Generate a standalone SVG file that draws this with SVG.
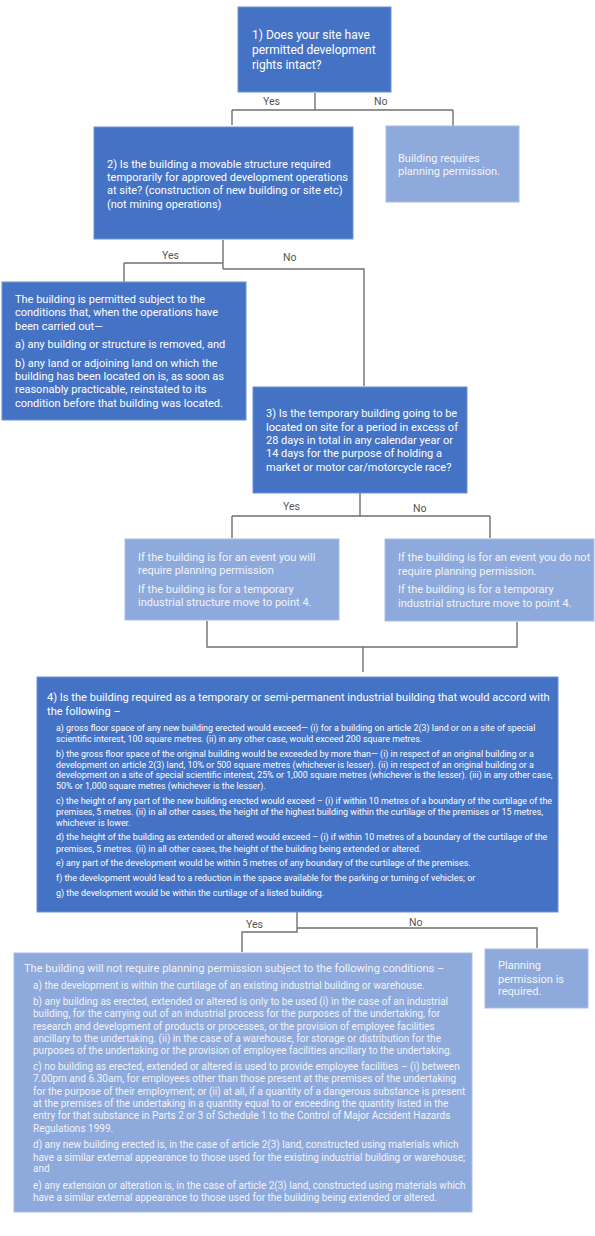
<svg xmlns="http://www.w3.org/2000/svg" width="595" height="1236" viewBox="0 0 595 1236">
<style>
.dark{fill:#4472C4;stroke:#6f92d3;stroke-width:1}
.light{fill:#8EA9DB;stroke:#a8bde4;stroke-width:1}
text{font-family:Roboto,"Liberation Sans",sans-serif;fill:#ffffff}
.lt text{fill:#f2f4f8}
.q1{font-size:12px}
.q{font-size:11.1px}
.m{font-size:11px}
.s{font-size:8.9px}
.s2{font-size:10px}
.lbl{font-size:10.5px;fill:#555555}
.conn{fill:none;stroke:#707070;stroke-width:1.4}
</style>
<rect width="595" height="1236" fill="#ffffff"/>
<g id="connectors">
<path class="conn" d="M315,93 V110 M232,110 H453 M232,110 V125 M453,110 V126"/>
<path class="conn" d="M223,240 V269 M124,263 H223 M124,263 V282 M223,269 H364 V386"/>
<path class="conn" d="M360,493 V516 M232,516 H490 M232,516 V538 M490,516 V538"/>
<path class="conn" d="M207,621 V647 H517 V622 M363,647 V672"/>
<path class="conn" d="M297,912 V932 H242 V952 M297,928 H537 V948"/>
<text class="lbl" x="263" y="105">Yes</text>
<text class="lbl" x="374" y="105">No</text>
<text class="lbl" x="162" y="259">Yes</text>
<text class="lbl" x="283" y="261">No</text>
<text class="lbl" x="283" y="510">Yes</text>
<text class="lbl" x="413" y="512">No</text>
<text class="lbl" x="246" y="928">Yes</text>
<text class="lbl" x="409" y="926">No</text>
</g>
<g id="q1">
<rect class="dark" x="238" y="7" width="153" height="85"/>
<text class="q1" x="252" y="39">1) Does your site have</text>
<text class="q1" x="252" y="54">permitted development</text>
<text class="q1" x="252" y="69">rights intact?</text>
</g>
<g id="q2">
<rect class="dark" x="94" y="127" width="259" height="112"/>
<text class="m" x="107" y="168">2) Is the building a movable structure required</text>
<text class="m" x="107" y="181">temporarily for approved development operations</text>
<text class="m" x="107" y="194">at site? (construction of new building or site etc)</text>
<text class="m" x="107" y="208">(not mining operations)</text>
</g>
<g id="r1" class="lt">
<rect class="light" x="386" y="126" width="133" height="76"/>
<text class="m" x="398" y="162">Building requires</text>
<text class="m" x="398" y="175">planning permission.</text>
</g>
<g id="r2">
<rect class="dark" x="2" y="282" width="244" height="138"/>
<text class="m" x="15" y="303">The building is permitted subject to the</text>
<text class="m" x="15" y="316">conditions that, when the operations have</text>
<text class="m" x="15" y="330">been carried out—</text>
<text class="m" x="15" y="348">a) any building or structure is removed, and</text>
<text class="m" x="15" y="367">b) any land or adjoining land on which the</text>
<text class="m" x="15" y="380">building has been located on is, as soon as</text>
<text class="m" x="15" y="393">reasonably practicable, reinstated to its</text>
<text class="m" x="15" y="407">condition before that building was located.</text>
</g>
<g id="q3">
<rect class="dark" x="253" y="387" width="214" height="106"/>
<text class="m" x="266" y="417">3) Is the temporary building going to be</text>
<text class="m" x="266" y="431">located on site for a period in excess of</text>
<text class="m" x="266" y="444">28 days in total in any calendar year or</text>
<text class="m" x="266" y="457">14 days for the purpose of holding a</text>
<text class="m" x="266" y="471">market or motor car/motorcycle race?</text>
</g>
<g id="r3yes" class="lt">
<rect class="light" x="125" y="539" width="214" height="81"/>
<text class="m" x="138" y="561">If the building is for an event you will</text>
<text class="m" x="138" y="574">require planning permission</text>
<text class="m" x="138" y="593">If the building is for a temporary</text>
<text class="m" x="138" y="606">industrial structure move to point 4.</text>
</g>
<g id="r3no" class="lt">
<rect class="light" x="385" y="539" width="209" height="82"/>
<text class="m" x="398" y="561">If the building is for an event you do not</text>
<text class="m" x="398" y="575">require planning permission.</text>
<text class="m" x="398" y="593">If the building is for a temporary</text>
<text class="m" x="398" y="607">industrial structure move to point 4.</text>
</g>
<g id="q4">
<rect class="dark" x="37" y="677" width="521" height="235"/>
<text class="q" x="47" y="701">4) Is the building required as a temporary or semi-permanent industrial building that would accord with</text>
<text class="q" x="47" y="715">the following –</text>
<text class="s" x="56" y="731">a) gross floor space of any new building erected would exceed— (i) for a building on article 2(3) land or on a site of special</text>
<text class="s" x="56" y="742">scientific interest, 100 square metres. (ii) in any other case, would exceed 200 square metres.</text>
<text class="s" x="56" y="757">b) the gross floor space of the original building would be exceeded by more than— (i) in respect of an original building or a</text>
<text class="s" x="56" y="768">development on article 2(3) land, 10% or 500 square metres (whichever is lesser). (ii) in respect of an original building or a</text>
<text class="s" x="56" y="778">development on a site of special scientific interest, 25% or 1,000 square metres (whichever is the lesser). (iii) in any other case,</text>
<text class="s" x="56" y="789">50% or 1,000 square metres (whichever is the lesser).</text>
<text class="s" x="56" y="804">c) the height of any part of the new building erected would exceed – (i) if within 10 metres of a boundary of the curtilage of the</text>
<text class="s" x="56" y="815">premises, 5 metres. (ii) in all other cases, the height of the highest building within the curtilage of the premises or 15 metres,</text>
<text class="s" x="56" y="826">whichever is lower.</text>
<text class="s" x="56" y="840">d) the height of the building as extended or altered would exceed – (i) if within 10 metres of a boundary of the curtilage of the</text>
<text class="s" x="56" y="852">premises, 5 metres. (ii) in all other cases, the height of the building being extended or altered.</text>
<text class="s" x="56" y="866">e) any part of the development would be within 5 metres of any boundary of the curtilage of the premises.</text>
<text class="s" x="56" y="881">f) the development would lead to a reduction in the space available for the parking or turning of vehicles; or</text>
<text class="s" x="56" y="896">g) the development would be within the curtilage of a listed building.</text>
</g>
<g id="r4yes" class="lt">
<rect class="light" x="14" y="953" width="458" height="259"/>
<text class="q" x="24" y="972">The building will not require planning permission subject to the following conditions –</text>
<text class="s2" x="33" y="989">a) the development is within the curtilage of an existing industrial building or warehouse.</text>
<text class="s2" x="33" y="1005">b) any building as erected, extended or altered is only to be used (i) in the case of an industrial</text>
<text class="s2" x="33" y="1017">building, for the carrying out of an industrial process for the purposes of the undertaking, for</text>
<text class="s2" x="33" y="1030">research and development of products or processes, or the provision of employee facilities</text>
<text class="s2" x="33" y="1042">ancillary to the undertaking. (ii) in the case of a warehouse, for storage or distribution for the</text>
<text class="s2" x="33" y="1054">purposes of the undertaking or the provision of employee facilities ancillary to the undertaking.</text>
<text class="s2" x="33" y="1070">c) no building as erected, extended or altered is used to provide employee facilities – (i) between</text>
<text class="s2" x="33" y="1082">7.00pm and 6.30am, for employees other than those present at the premises of the undertaking</text>
<text class="s2" x="33" y="1095">for the purpose of their employment; or (ii) at all, if a quantity of a dangerous substance is present</text>
<text class="s2" x="33" y="1107">at the premises of the undertaking in a quantity equal to or exceeding the quantity listed in the</text>
<text class="s2" x="33" y="1119">entry for that substance in Parts 2 or 3 of Schedule 1 to the Control of Major Accident Hazards</text>
<text class="s2" x="33" y="1132">Regulations 1999.</text>
<text class="s2" x="33" y="1148">d) any new building erected is, in the case of article 2(3) land, constructed using materials which</text>
<text class="s2" x="33" y="1161">have a similar external appearance to those used for the existing industrial building or warehouse;</text>
<text class="s2" x="33" y="1172">and</text>
<text class="s2" x="33" y="1189">e) any extension or alteration is, in the case of article 2(3) land, constructed using materials which</text>
<text class="s2" x="33" y="1201">have a similar external appearance to those used for the building being extended or altered.</text>
</g>
<g id="r4no" class="lt">
<rect class="light" x="485" y="949" width="103" height="59"/>
<text class="q" x="498" y="969">Planning</text>
<text class="q" x="498" y="983">permission is</text>
<text class="q" x="498" y="995">required.</text>
</g>
</svg>
